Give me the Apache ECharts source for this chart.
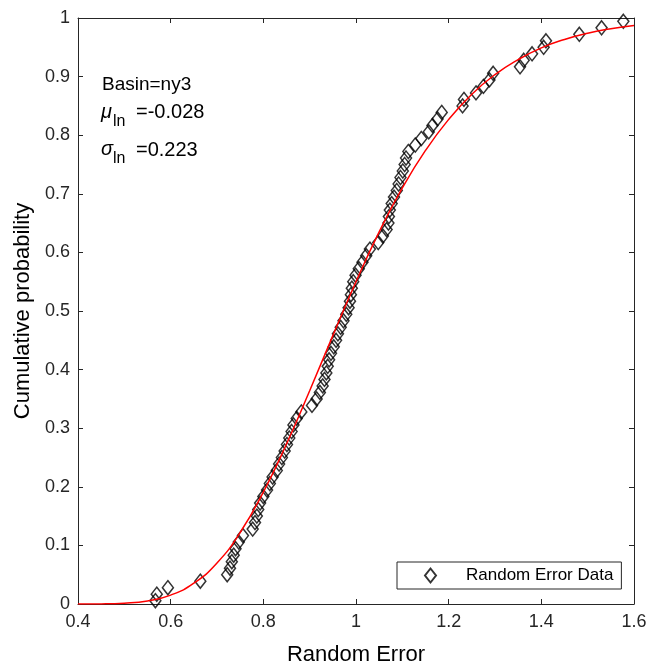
<!DOCTYPE html>
<html>
<head>
<meta charset="utf-8">
<script src="https://cdn.jsdelivr.net/npm/echarts@6/dist/echarts.min.js"></script>
<style>html,body{margin:0;padding:0;background:#fff}#c{width:651px;height:671px}</style>
</head>
<body>
<div id="c"></div>
<script>
// Empirical CDF points (Random Error Data)
const dataX = [0.567,0.570,0.594,0.664,0.722,0.728,0.732,0.736,0.740,0.747,
0.756,0.777,0.782,0.786,0.789,0.793,0.800,0.808,0.814,0.820,
0.829,0.834,0.840,0.846,0.851,0.856,0.861,0.865,0.872,0.882,
0.905,0.915,0.922,0.928,0.932,0.936,0.939,0.942,0.946,0.952,
0.957,0.961,0.967,0.973,0.979,0.984,0.987,0.989,0.991,0.994,
0.999,1.006,1.014,1.022,1.030,1.048,1.058,1.066,1.070,1.071,
1.073,1.077,1.082,1.088,1.092,1.096,1.101,1.105,1.108,1.113,
1.128,1.141,1.157,1.165,1.176,1.185,1.230,1.233,1.259,1.275,
1.288,1.296,1.354,1.362,1.380,1.405,1.410,1.482,1.530,1.577];
const dataY = [0.0056,0.0167,0.0278,0.0389,0.0500,0.0611,0.0722,0.0833,0.0944,0.1056,
0.1167,0.1278,0.1389,0.1500,0.1611,0.1722,0.1833,0.1944,0.2056,0.2167,
0.2278,0.2389,0.2500,0.2611,0.2722,0.2833,0.2944,0.3056,0.3167,0.3278,
0.3389,0.3500,0.3611,0.3722,0.3833,0.3944,0.4056,0.4167,0.4278,0.4389,
0.4500,0.4611,0.4722,0.4833,0.4944,0.5056,0.5167,0.5278,0.5389,0.5500,
0.5611,0.5722,0.5833,0.5944,0.6056,0.6167,0.6278,0.6389,0.6500,0.6611,
0.6722,0.6833,0.6944,0.7056,0.7167,0.7278,0.7389,0.7500,0.7611,0.7722,
0.7833,0.7944,0.8056,0.8167,0.8278,0.8389,0.8500,0.8611,0.8722,0.8833,
0.8944,0.9056,0.9167,0.9278,0.9389,0.9500,0.9611,0.9722,0.9833,0.9944];
// Fitted curve (red line)
const curveX = [0.40,0.45,0.50,0.55,0.60,0.65,0.70,0.75,0.80,0.85,0.90,0.95,1.00,
1.05,1.10,1.15,1.20,1.25,1.30,1.35,1.40,1.45,1.50,1.55,1.60];
const curveY = [0.0000,0.0002,0.0014,0.0053,0.0152,0.0355,0.070,0.122,0.191,0.273,0.364,0.458,0.550,
0.635,0.710,0.774,0.827,0.870,0.9035,0.929,0.949,0.9634,0.974,0.9817,0.9872];
const xTicks = {min:0.4, max:1.6, interval:0.2};
const yTicks = {min:0, max:1, interval:0.1};
const seriesName = 'Random Error Data';
const xName = 'Random Error';
const yName = 'Cumulative probability';
const annot = {basin:'Basin=ny3', mu:'=-0.028', sigma:'=0.223'};

const FONT = 'Liberation Sans, Arial, Helvetica, sans-serif';
const AX = '#262626';
const chart = echarts.init(document.getElementById('c'), null, {renderer:'canvas'});

function axisCommon(show){
  return {
    axisLine:{show:true, onZero:false, lineStyle:{color:AX, width:1}},
    axisTick:{show:true, inside:true, length:5, lineStyle:{color:AX, width:1}},
    splitLine:{show:false},
    axisLabel:{show:show, color:AX, fontSize:18, fontFamily:FONT}
  };
}

const option = {
  backgroundColor:'#fff',
  animation:false,
  grid:{left:78, right:17, top:18, bottom:67, containLabel:false},
  xAxis:[
    Object.assign({type:'value', position:'bottom', min:xTicks.min, max:xTicks.max, interval:xTicks.interval,
      name:xName, nameLocation:'middle', nameGap:40,
      nameTextStyle:{color:'#000', fontSize:22, fontFamily:FONT}}, axisCommon(true),
      {axisLabel:{show:true, color:AX, fontSize:18, fontFamily:FONT, margin:9}}),
    Object.assign({type:'value', position:'top', min:xTicks.min, max:xTicks.max, interval:xTicks.interval}, axisCommon(false))
  ],
  yAxis:[
    Object.assign({type:'value', position:'left', min:yTicks.min, max:yTicks.max, interval:yTicks.interval,
      name:yName, nameLocation:'middle', nameGap:42,
      nameTextStyle:{color:'#000', fontSize:22, fontFamily:FONT}}, axisCommon(true),
      {axisLabel:{show:true, color:AX, fontSize:18, fontFamily:FONT, margin:8}}),
    Object.assign({type:'value', position:'right', min:yTicks.min, max:yTicks.max, interval:yTicks.interval}, axisCommon(false))
  ],
  legend:{
    data:[seriesName],
    left:397, top:562,
    orient:'horizontal',
    padding:[5,8,5,27],
    itemWidth:11, itemHeight:14,
    borderColor:AX, borderWidth:1, borderRadius:0,
    backgroundColor:'#fff',
    textStyle:{color:'#000', fontSize:17, fontFamily:FONT, padding:[0,0,0,25], lineHeight:16}
  },
  graphic:[
    {type:'text', left:102, top:75, style:{text:annot.basin, font:'19px '+FONT, fill:'#000'}},
    {type:'text', left:101, top:102, style:{text:'μ', font:'italic 20px '+FONT, fill:'#000'}},
    {type:'text', left:113, top:114, style:{text:'ln', font:'16px '+FONT, fill:'#000'}},
    {type:'text', left:136, top:102, style:{text:annot.mu, font:'20px '+FONT, fill:'#000'}},
    {type:'text', left:101, top:139, style:{text:'σ', font:'italic 20px '+FONT, fill:'#000'}},
    {type:'text', left:113, top:151, style:{text:'ln', font:'16px '+FONT, fill:'#000'}},
    {type:'text', left:136, top:140, style:{text:annot.sigma, font:'20px '+FONT, fill:'#000'}}
  ],
  series:[
    {
      name:seriesName, type:'scatter', xAxisIndex:0, yAxisIndex:0,
      symbol:'diamond', symbolSize:[11,14],
      itemStyle:{color:'rgba(255,255,255,0)', borderColor:'#000', borderWidth:1.5},
      data:dataX.map((x,i)=>[x, dataY[i]]), z:2
    },
    {
      name:'fit', type:'line', xAxisIndex:0, yAxisIndex:0,
      smooth:true, showSymbol:false, symbol:'none',
      lineStyle:{color:'#ff0000', width:1.5},
      data:curveX.map((x,i)=>[x, curveY[i]]), z:3
    }
  ]
};
chart.setOption(option);
</script>
</body>
</html>
